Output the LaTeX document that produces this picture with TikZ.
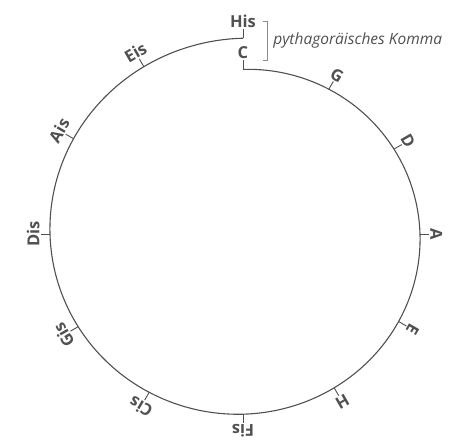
\documentclass[tikz,border=0pt]{standalone}
\usepackage{fontspec}
\setmainfont{Open Sans}
\usetikzlibrary{calc}
\definecolor{ink}{HTML}{505050}
\definecolor{lightink}{HTML}{8C8C8C}
\tikzset{every picture/.style={line width=0.75pt}}
\tikzset{
  spiral/.style={ink, line width=1.1pt},
  tick/.style={ink, line width=0.9pt},
  note/.style={text=ink, font=\fontsize{16.5}{18}\selectfont\bfseries, inner sep=1pt},
  brace/.style={lightink, line width=0.8pt}
}

\begin{document}
\begin{tikzpicture}[x=1pt, y=1pt]

    \useasboundingbox (-243,-208) rectangle (231,234);

    % --- Quintenspirale ---
    \draw[spiral] plot[domain=0:360, samples=181, smooth, variable=\t]
        ({(169+16*\t/180)*sin(\t)}, {0.974*(169+16*\t/180)*cos(\t)});

    % Quinten mit Strich und Name
    \foreach \n [count=\i from 0] in {C,G,D,A,E,H,Fis,Cis,Gis,Dis,Ais,Eis,His} {
        \pgfmathsetmacro{\ang}{30*\i}
        \pgfmathsetmacro{\rad}{169+16*\ang/180}
        \coordinate (p\i) at ({\rad*sin(\ang)}, {0.974*\rad*cos(\ang)});
        \draw[tick] (p\i) -- ++(90-\ang:9) coordinate (t\i);
        \node[note, rotate=-\ang, anchor=south] (\n) at (t\i) {\n};
    }

    % --- Komma ---
    \coordinate (kt) at (24,213);
    \coordinate (kb) at (24,174);
    \draw[brace] ($(kt)+(-4,0)$) -- (kt) -- (kb) -- ($(kb)+(-4,0)$);
    \node[text=ink, font=\fontsize{15.5}{18}\selectfont\itshape, anchor=west, inner sep=0pt]
        (komma) at ($(kt)!0.5!(kb)+(6,0)$) {pythagoräisches Komma};

\end{tikzpicture}
\end{document}
